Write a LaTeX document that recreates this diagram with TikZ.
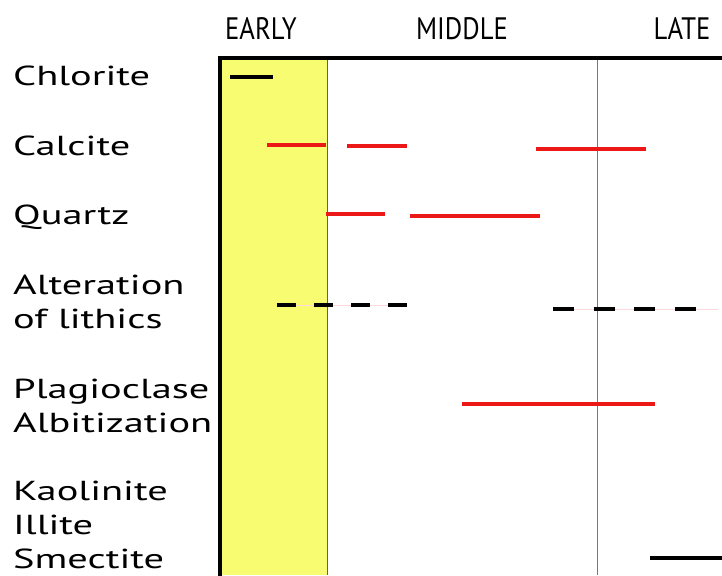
\documentclass[tikz,border=0pt]{standalone}
\usepackage{fontspec}
\setmainfont{PT Sans}
\newfontfamily\widefont[FakeStretch=1.47]{PT Sans}
\newfontfamily\narrowfont[FakeStretch=0.86]{PT Sans}
\definecolor{earlyyellow}{RGB}{247,252,112}
\definecolor{barred}{RGB}{236,24,24}
\definecolor{stagegray}{RGB}{120,120,120}
\tikzset{
  mineral/.style={anchor=base west, inner sep=0pt, font=\widefont\fontsize{27.5}{34}\selectfont, align=left},
  stage/.style={anchor=base, inner sep=0pt, font=\narrowfont\fontsize{31}{34}\selectfont},
  redbar/.style={draw=barred, line width=4.5pt},
  blackbar/.style={draw=black, line width=4pt},
  dashbar/.style={draw=black, line width=4pt, dash pattern=on 19pt off 18pt}
}
\begin{document}
\begin{tikzpicture}[x=1pt,y=-1pt]
\useasboundingbox (0,0) rectangle (722,575);

% early stage band and stage boundary
\fill[earlyyellow] (220,58) rectangle (327,575);
\draw[olive!70!black, line width=0.8pt] (327,58) -- (327,575);
\draw[stagegray, line width=0.9pt] (597,58) -- (597,575);

% frame
\draw[line width=4pt] (220,577) -- (220,58) -- (724,58);

% stage headings
\begin{scope}[every node/.style={stage}]
\node (early) at (261,40) {EARLY};
\node (middle) at (462,40) {MIDDLE};
\node (late) at (682,40) {LATE};
\end{scope}

% minerals (base = last line)
\begin{scope}[every node/.style={mineral}]
\node (chl) at (13,86) {Chlorite};
\node (cal) at (13,155) {Calcite};
\node (qtz) at (13,224) {Quartz};
\node (alt) at (13,328) {Alteration\\of lithics};
\node (plg) at (13,432) {Plagioclase\\Albitization};
\node (kis) at (13,568) {Kaolinite\\Illite\\Smectite};
\end{scope}

% chlorite
\draw[blackbar] (230,77) -- (273,77);

% calcite
\draw[redbar] (267,145) -- (326,145);
\draw[redbar] (347,146) -- (407,146);
\draw[redbar] (536,149) -- (646,149);

% quartz
\draw[redbar] (326,214) -- (385,214);
\draw[redbar] (410,216) -- (540,216);

% alteration of lithics
\draw[red!15, line width=0.5pt] (277,305) -- (407,305);
\draw[red!15, line width=0.5pt] (553,309) -- (718,309);
\draw[dashbar] (277,305) -- (407,305);
\draw[dashbar, dash pattern=on 21pt off 19.5pt] (553,309) -- (696,309);

% albitization
\draw[redbar] (462,404) -- (655,404);

% clays
\draw[blackbar] (650,558) -- (724,558);

\end{tikzpicture}
\end{document}
